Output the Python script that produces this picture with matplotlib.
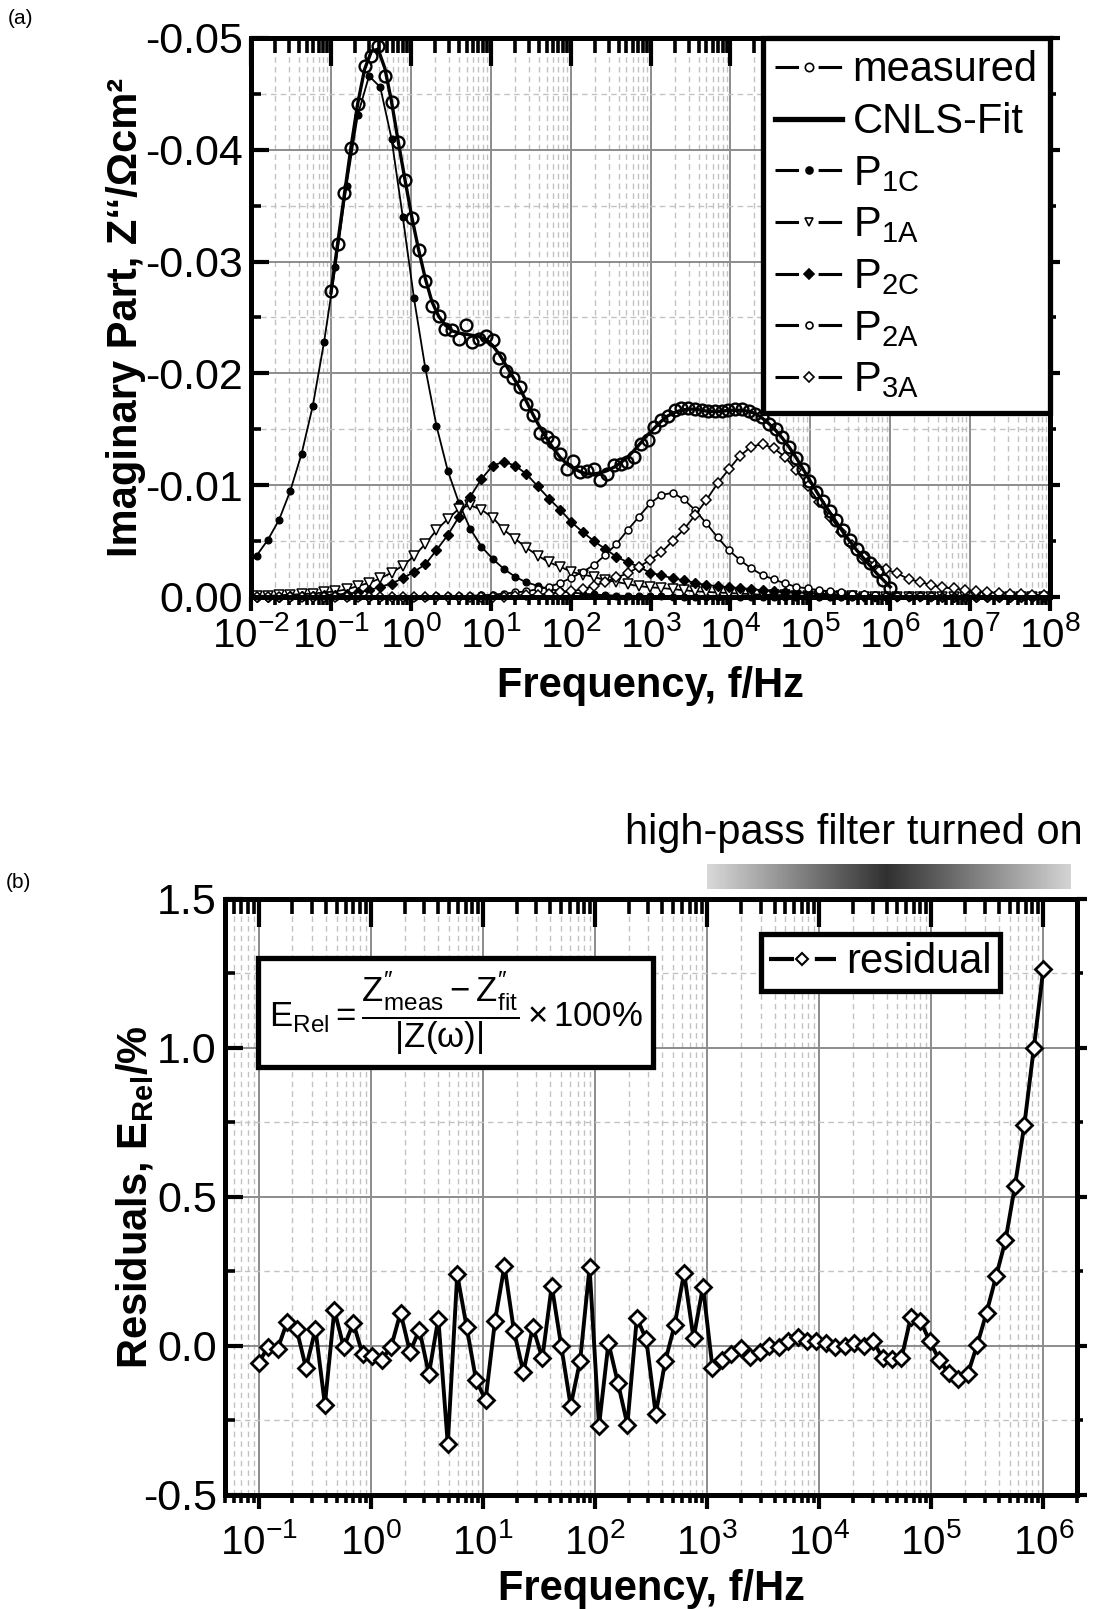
import numpy as np
import matplotlib
matplotlib.use('Agg')
import matplotlib.pyplot as plt
from matplotlib.lines import Line2D
from matplotlib.ticker import LogLocator, FixedLocator, FormatStrFormatter, NullFormatter

plt.rcParams['font.family'] = ['Liberation Sans', 'DejaVu Sans']
plt.rcParams['mathtext.fontset'] = 'custom'
plt.rcParams['mathtext.rm'] = 'Liberation Sans'
plt.rcParams['mathtext.it'] = 'Liberation Sans:italic'
plt.rcParams['mathtext.bf'] = 'Liberation Sans:bold'
plt.rcParams['mathtext.default'] = 'regular'
plt.rcParams['axes.unicode_minus'] = False

# ---- data (a): Z'' in Ohm cm^2 ----
freq_meas = np.logspace(-1, 6, 84)      # measured frequencies, 0.1 Hz ... 1 MHz
freq_comp = np.logspace(-1.93, 7.92, 71)  # frequencies of the partial processes

measured = [-0.0274, -0.0316, -0.0361, -0.0402, -0.0441, -0.0475, -0.0484, -0.0493, -0.0466, -0.0443,
            -0.0407, -0.0373, -0.0339, -0.0310, -0.0283, -0.0260, -0.0251, -0.0240, -0.0239, -0.0231,
            -0.0243, -0.0228, -0.0231, -0.0233, -0.0230, -0.0214, -0.0202, -0.0196, -0.0188, -0.0173,
            -0.0163, -0.0147, -0.0143, -0.0139, -0.0128, -0.0114, -0.0122, -0.0112, -0.0113, -0.0114,
            -0.0105, -0.0110, -0.0118, -0.0119, -0.0121, -0.0125, -0.0137, -0.0140, -0.0152, -0.0158,
            -0.0162, -0.0167, -0.0169, -0.0169, -0.0168, -0.0167, -0.0166, -0.0166, -0.0166, -0.0167,
            -0.0168, -0.0168, -0.0166, -0.0164, -0.0161, -0.0155, -0.0150, -0.0143, -0.0134, -0.0124,
            -0.0114, -0.0104, -0.0094, -0.0086, -0.0077, -0.0069, -0.0060, -0.0051, -0.0043, -0.0036,
            -0.0030, -0.0023, -0.0015, -0.0008]

cnls_fit = [-0.0272, -0.0316, -0.0360, -0.0403, -0.0442, -0.0472, -0.0488, -0.0490, -0.0473, -0.0443,
            -0.0407, -0.0373, -0.0340, -0.0311, -0.0285, -0.0264, -0.0251, -0.0243, -0.0238, -0.0236,
            -0.0235, -0.0234, -0.0233, -0.0230, -0.0225, -0.0217, -0.0207, -0.0197, -0.0187, -0.0175,
            -0.0163, -0.0152, -0.0142, -0.0133, -0.0125, -0.0119, -0.0115, -0.0112, -0.0110, -0.0110,
            -0.0111, -0.0113, -0.0116, -0.0120, -0.0125, -0.0131, -0.0138, -0.0145, -0.0151, -0.0157,
            -0.0162, -0.0165, -0.0167, -0.0168, -0.0168, -0.0167, -0.0166, -0.0166, -0.0166, -0.0167,
            -0.0167, -0.0167, -0.0166, -0.0164, -0.0160, -0.0155, -0.0149, -0.0142, -0.0134, -0.0125,
            -0.0115, -0.0105, -0.0095, -0.0085, -0.0076, -0.0067, -0.0058, -0.0050, -0.0042, -0.0035,
            -0.0028, -0.0021, -0.0015, -0.0009]

p1c = [-0.0037, -0.0051, -0.0069, -0.0095, -0.0128, -0.0171, -0.0228, -0.0295, -0.0368, -0.0431,
       -0.0466, -0.0456, -0.0410, -0.0340, -0.0267, -0.0205, -0.0153, -0.0113, -0.0084, -0.0061,
       -0.0045, -0.0034, -0.0025, -0.0018, -0.0013, -0.0010, -0.0007, -0.00055, -0.0004, -0.0003,
       -0.00022, -0.00016, -0.00012, -0.00009, -0.00007, -0.00005, -0.00004, -0.00003, -0.00002, -0.00002,
       0.0, 0.0, 0.0, 0.0, 0.0, 0.0, 0.0, 0.0, 0.0, 0.0,
       0.0, 0.0, 0.0, 0.0, 0.0, 0.0, 0.0, 0.0, 0.0, 0.0,
       0.0, 0.0, 0.0, 0.0, 0.0, 0.0, 0.0, 0.0, 0.0, 0.0, 0.0]

p1a = [-0.0001, -0.0001, -0.00015, -0.0002, -0.00025, -0.0003, -0.0004, -0.0005, -0.00067, -0.00097,
       -0.00126, -0.00166, -0.00216, -0.00279, -0.00365, -0.00473, -0.00598, -0.00697, -0.0079, -0.0082,
       -0.0078, -0.0071, -0.0060, -0.0052, -0.0044, -0.0037, -0.0031, -0.0027, -0.00225, -0.0020,
       -0.0018, -0.0015, -0.00135, -0.00115, -0.00097, -0.00086, -0.0008, -0.0007, -0.0006, -0.0005,
       -0.00045, -0.0004, -0.00035, -0.0003, -0.00025, -0.0002, -0.00018, -0.00015, -0.00012, -0.0001,
       -0.00008, -0.00006, -0.00005, -0.00004, -0.00003, -0.00002, 0.0, 0.0, 0.0, 0.0,
       0.0, 0.0, 0.0, 0.0, 0.0, 0.0, 0.0, 0.0, 0.0, 0.0, 0.0]

p2c = [0.0, 0.0, -0.00003, -0.00005, -0.00007, -0.0001, -0.00015, -0.0002, -0.0003, -0.0004,
       -0.0006, -0.0009, -0.0012, -0.00166, -0.00225, -0.00291, -0.00419, -0.00553, -0.00717, -0.00896,
       -0.01055, -0.01174, -0.0121, -0.01174, -0.0110, -0.0099, -0.0088, -0.0078, -0.0067, -0.0058,
       -0.0050, -0.0043, -0.0036, -0.0031, -0.0027, -0.00216, -0.00195, -0.00166, -0.0015, -0.00126,
       -0.00106, -0.00097, -0.00086, -0.0008, -0.0007, -0.0006, -0.0005, -0.00045, -0.0004, -0.00035,
       -0.0003, -0.00025, -0.0002, -0.00018, -0.00015, -0.00012, -0.0001, -0.00008, -0.00006, -0.00005,
       -0.00004, -0.00003, -0.00002, -0.00002, 0.0, 0.0, 0.0, 0.0, 0.0, 0.0, 0.0]

p2a = [0.0, 0.0, 0.0, 0.0, 0.0, 0.0, 0.0, 0.0, 0.0, 0.0,
       0.0, 0.0, 0.0, 0.0, 0.0, -0.00002, -0.00004, -0.00006, -0.00008, -0.0001,
       -0.00015, -0.0002, -0.0003, -0.0004, -0.0005, -0.0007, -0.0009, -0.00126, -0.00171, -0.00225,
       -0.00285, -0.00374, -0.00473, -0.00598, -0.00717, -0.00837, -0.00911, -0.00932, -0.00873, -0.00777,
       -0.00658, -0.00533, -0.00419, -0.00329, -0.00255, -0.00195, -0.00157, -0.00121, -0.0009, -0.00076,
       -0.00061, -0.0005, -0.0004, -0.0003, -0.00022, -0.00016, -0.00012, -0.00009, -0.00007, -0.00005,
       -0.00004, -0.00003, -0.00002, -0.00002, 0.0, 0.0, 0.0, 0.0, 0.0, 0.0, 0.0]

p3a = [0.0, 0.0, 0.0, 0.0, 0.0, 0.0, 0.0, 0.0, 0.0, 0.0,
       0.0, 0.0, 0.0, 0.0, 0.0, 0.0, 0.0, 0.0, 0.0, 0.0,
       0.0, 0.0, 0.0, -0.0001, -0.00015, -0.0002, -0.0003, -0.0004, -0.0005, -0.0007,
       -0.00097, -0.00135, -0.00175, -0.0021, -0.0027, -0.0033, -0.00398, -0.00502, -0.00604, -0.00732,
       -0.00866, -0.01016, -0.01141, -0.01263, -0.01344, -0.01368, -0.01329, -0.01252, -0.01132, -0.00996,
       -0.00851, -0.00717, -0.00583, -0.00464, -0.00359, -0.00285, -0.00246, -0.0021, -0.00159, -0.00135,
       -0.00106, -0.00085, -0.00076, -0.0006, -0.0005, -0.00042, -0.00035, -0.0003, -0.00025, -0.0002, -0.00017]

# ---- data (b): relative residuals in % ----
residual = [-0.056, -0.003, -0.010, 0.080, 0.057, -0.074, 0.056, -0.197, 0.120, -0.005,
            0.077, -0.028, -0.034, -0.046, -0.004, 0.112, -0.020, 0.054, -0.095, 0.092,
            -0.330, 0.240, 0.063, -0.116, -0.181, 0.085, 0.269, 0.050, -0.088, 0.064,
            -0.042, 0.202, 0.000, -0.201, -0.050, 0.264, -0.268, 0.010, -0.124, -0.264,
            0.094, 0.022, -0.229, -0.052, 0.070, 0.245, 0.026, 0.199, -0.073, -0.048,
            -0.027, -0.008, -0.038, -0.022, 0.000, -0.004, 0.015, 0.029, 0.015, 0.018,
            0.009, -0.004, 0.000, 0.009, 0.000, 0.017, -0.041, -0.045, -0.041, 0.098,
            0.084, 0.015, -0.047, -0.092, -0.110, -0.095, 0.003, 0.112, 0.233, 0.354,
            0.537, 0.743, 1.000, 1.265]

ticks_a = [-0.05, -0.04, -0.03, -0.02, -0.01, 0.0]
ticks_b = [-0.5, 0.0, 0.5, 1.0, 1.5]

FS_YTICK = 31
FS_XTICK = 29
FS_LAB = 30
SPINE = 3.4


def log_x(ax, xlim):
    ax.set_xscale('log')
    ax.set_xlim(*xlim)
    ax.xaxis.set_major_locator(LogLocator(base=10, numticks=20))
    ax.xaxis.set_minor_locator(LogLocator(base=10, subs=np.arange(2, 10), numticks=300))
    ax.xaxis.set_minor_formatter(NullFormatter())


def dress(ax, xlim, ylim, yticks, yminor, yfmt, xpad):
    log_x(ax, xlim)
    ax.set_ylim(*ylim)
    ax.set_axisbelow(True)
    ax.yaxis.set_major_locator(FixedLocator(yticks))
    ax.yaxis.set_minor_locator(FixedLocator(yminor))
    ax.yaxis.set_major_formatter(FormatStrFormatter(yfmt))
    ax.grid(which='major', color='#8c8c8c', lw=1.4, ls='-')
    ax.grid(which='minor', color='#c2c2c2', lw=1.0, ls=(0, (4, 3)))
    ax.tick_params(axis='x', which='major', direction='out', length=10, width=3.0,
                   labelsize=FS_XTICK, pad=xpad)
    ax.tick_params(axis='x', which='minor', direction='out', length=6, width=2.6)
    ax.tick_params(axis='y', which='major', direction='in', length=13, width=3.0,
                   labelsize=FS_YTICK, pad=6)
    ax.tick_params(axis='y', which='minor', direction='in', length=7, width=2.6)
    for s in ax.spines.values():
        s.set_linewidth(SPINE)

    # top ticks point inwards
    top = ax.twiny()
    log_x(top, xlim)
    top.xaxis.set_major_formatter(NullFormatter())
    top.tick_params(axis='x', which='major', direction='in', length=20, width=3.0)
    top.tick_params(axis='x', which='minor', direction='in', length=11, width=2.6)
    for s in top.spines.values():
        s.set_linewidth(SPINE)

    # right ticks point outwards; this twin is drawn last, so legends go on it
    right = ax.twinx()
    right.set_ylim(*ylim)
    right.yaxis.set_major_locator(FixedLocator(yticks))
    right.yaxis.set_minor_locator(FixedLocator(yminor))
    right.yaxis.set_major_formatter(NullFormatter())
    right.tick_params(axis='y', which='major', direction='out', length=7, width=3.0)
    right.tick_params(axis='y', which='minor', direction='out', length=4, width=2.6)
    for s in right.spines.values():
        s.set_linewidth(SPINE)
    return right


fig = plt.figure(figsize=(10.98, 16.09), dpi=100)

# ---------------- (a) ----------------
ax1 = fig.add_axes([0.2286, 0.6290, 0.7277, 0.3474])
over1 = dress(ax1, (1e-2, 1e8), (0.0, -0.05), ticks_a,
              [-0.045, -0.035, -0.025, -0.015, -0.005], '%.2f', 4)

comp_kw = dict(color='k', lw=1.3, clip_on=False, zorder=3)
ax1.plot(freq_comp, p1c, marker='o', ms=4.8, mfc='k', mec='k', **comp_kw)
ax1.plot(freq_comp, p1a, marker='v', ms=6.5, mfc='white', mec='k', mew=1.1, **comp_kw)
ax1.plot(freq_comp, p2c, marker='D', ms=4.6, mfc='k', mec='k', **comp_kw)
ax1.plot(freq_comp, p2a, marker='o', ms=5.0, mfc='white', mec='k', mew=1.1, **comp_kw)
ax1.plot(freq_comp, p3a, marker='D', ms=4.6, mfc='white', mec='k', mew=1.1, **comp_kw)
ax1.plot(freq_meas, cnls_fit, color='k', lw=2.4, zorder=4)
ax1.plot(freq_meas, measured, ls='none', marker='o', ms=8.5, mfc='none', mec='k',
         mew=1.7, zorder=5, clip_on=False)

ax1.set_xlabel('Frequency, f/Hz', fontsize=FS_LAB, fontweight='bold', labelpad=8)
ax1.set_ylabel('Imaginary Part, Z\u2018\u2018/\u03a9cm\u00b2', fontsize=FS_LAB,
               fontweight='bold', labelpad=-1)

gap = (0, (7.7, 6.4))
h_kw = dict(color='k', lw=2.2, ls=gap, mec='k', mew=1.2)
handles = [
    Line2D([], [], marker='o', ms=6, mfc='white', **h_kw),
    Line2D([], [], color='k', lw=3.8),
    Line2D([], [], marker='o', ms=5, mfc='k', **h_kw),
    Line2D([], [], marker='v', ms=6, mfc='white', **h_kw),
    Line2D([], [], marker='D', ms=5, mfc='k', **h_kw),
    Line2D([], [], marker='o', ms=5, mfc='white', **h_kw),
    Line2D([], [], marker='D', ms=5, mfc='white', **h_kw),
]
labels = ['measured', 'CNLS-Fit', r'P$_{1C}$', r'P$_{1A}$', r'P$_{2C}$', r'P$_{2A}$', r'P$_{3A}$']
leg = over1.legend(handles, labels, loc='upper right', bbox_to_anchor=(1.0, 1.0),
                   borderaxespad=0, fontsize=FS_LAB, handlelength=1.6, handletextpad=0.25,
                   labelspacing=0.28, borderpad=0.3, fancybox=False, framealpha=1,
                   edgecolor='k')
leg.get_frame().set_linewidth(3.8)

# ---------------- (b) ----------------
ax2 = fig.add_axes([0.2049, 0.0709, 0.7760, 0.3704])
over2 = dress(ax2, (0.05, 2e6), (-0.5, 1.5), ticks_b, [-0.25, 0.25, 0.75, 1.25], '%.1f', 10)

ax2.plot(freq_meas, residual, color='k', lw=2.8, marker='D', ms=8.5, mfc='white',
         mec='k', mew=2.0, zorder=4, clip_on=False)
ax2.set_xlabel('Frequency, f/Hz', fontsize=FS_LAB, fontweight='bold', labelpad=5)
ax2.set_ylabel(r'Residuals, E$_{\mathbf{Rel}}$/%', fontsize=FS_LAB, fontweight='bold',
               labelpad=-10)

leg2 = over2.legend([Line2D([], [], color='k', lw=3.0, ls=(0, (6.0, 5.0)), marker='D', ms=6.5,
                            mfc='white', mec='k', mew=1.5)], ['residual'],
                    loc='upper right', bbox_to_anchor=(0.9096, 0.9413), borderaxespad=0,
                    fontsize=FS_LAB, handlelength=1.6, handletextpad=0.25, borderpad=0.2,
                    fancybox=False, framealpha=1, edgecolor='k')
leg2.get_frame().set_linewidth(3.8)

formula = (r'$E_{Rel}=\dfrac{Z^{\prime\prime}_{meas}-Z^{\prime\prime}_{fit}}'
           r'{\left|Z(\omega)\right|}\times100\%$')
over2.text(0.271, 0.809, formula, transform=over2.transAxes, ha='center', va='center',
           fontsize=25, zorder=6,
           bbox=dict(boxstyle='square,pad=0.3', fc='white', ec='k', lw=3.8))

# high-pass filter annotation with grey gradient bar
fig.text(0.778, 0.4823, 'high-pass filter turned on', fontsize=FS_LAB, ha='center',
         va='center')
gax = fig.add_axes([0.6439, 0.4475, 0.3315, 0.0155])
shade = np.interp(np.linspace(0, 1, 400), [0.0, 0.494, 1.0], [0.85, 0.19, 0.83])
gax.imshow(shade[np.newaxis, :], cmap='gray', vmin=0, vmax=1, aspect='auto')
gax.axis('off')

fig.text(0.0187, 0.9885, '(a)', fontsize=15, ha='center', va='center')
fig.text(0.0170, 0.4518, '(b)', fontsize=15, ha='center', va='center')

fig.savefig('out.png', dpi=100)
